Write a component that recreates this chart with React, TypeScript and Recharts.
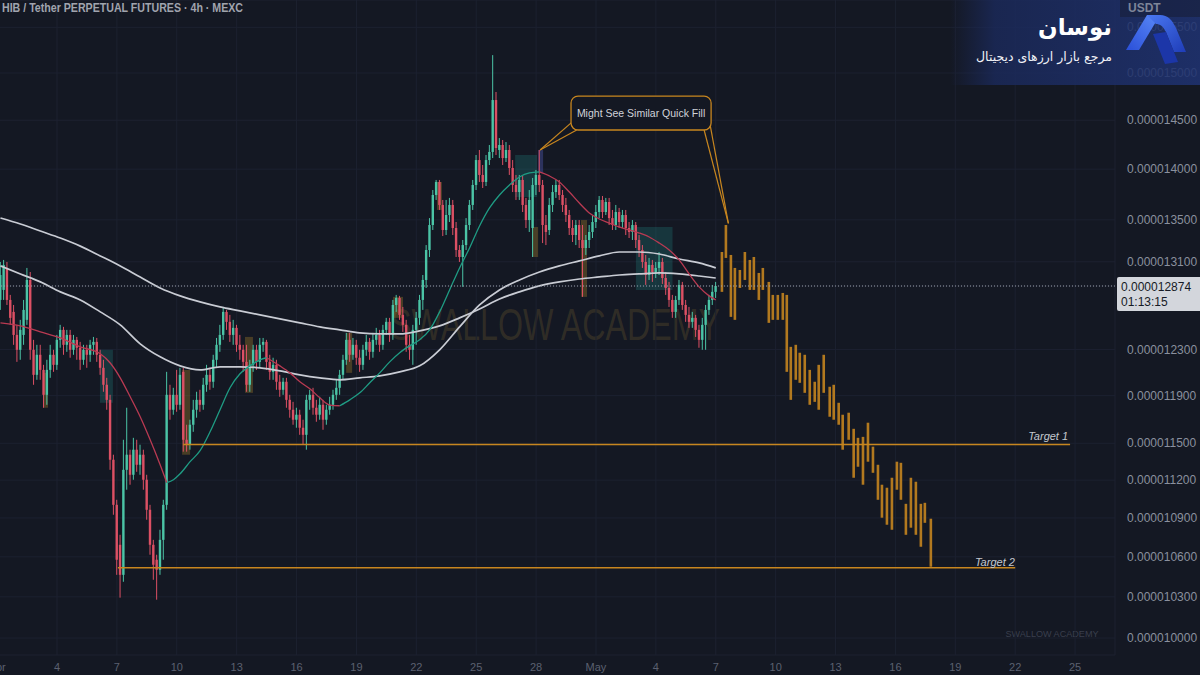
import React from 'react';
import {
  ComposedChart, Bar, Line, XAxis, YAxis, CartesianGrid,
  ReferenceLine, ReferenceArea, ReferenceDot,
} from 'recharts';

// Prices are stored in units of 1e-9 USDT (12874 => 0.000012874)
// Candle index = number of 4h bars since Apr 1 00:00
const firstCandle = 1;
const opens = [
  12746,12838,13042,12746,12637,12430,12298,12430,12565,12930,
  12298,12079,12254,12122,11907,12122,12254,12166,12386,12475,
  12342,12430,12298,12386,12316,12210,12298,12254,12342,12368,
  12254,12140,11993,11864,11365,11003,10692,10464,11283,11406,
  11243,11447,11324,11406,11203,10964,10692,10578,10502,10730,
  11003,11907,11780,11907,11822,12105,11529,11488,11654,11780,
  11864,11822,11993,12079,12019,12210,12342,12430,12637,12547,
  12430,12493,12342,12298,12192,11993,12166,12298,12192,12342,
  12368,12192,12105,12166,12019,11950,12019,11864,11780,11696,
  11738,11629,11570,11864,11907,11797,11738,11822,11696,11780,
  11822,11907,11967,12079,12210,12386,12254,12342,12228,12166,
  12298,12368,12280,12386,12430,12342,12475,12547,12430,12700,
  12764,12610,12520,12342,12298,12475,12583,12746,12930,13211,
  13450,13743,13872,13645,13402,13547,13645,13421,13211,13145,
  13258,13450,13645,13842,14092,13942,13872,14092,14174,14712,
  14194,14245,14112,14194,14012,13842,13772,13892,13645,13498,
  13421,13842,13942,13842,13450,13402,13645,13772,13842,13743,
  13645,13547,13421,13354,13450,13306,13230,13306,13383,13479,
  13576,13694,13576,13674,13517,13450,13576,13479,13547,13421,
  13383,13450,13306,13211,13098,12976,13070,13004,13042,13098,
  12948,12856,12746,12637,12746,12884,12700,12610,12547,12583,
  12475,12386,12520,12655,12746,12820,
];
const highs = [
  13098,13117,13098,12792,12700,12520,12565,12746,13042,13004,
  12386,12342,12342,12166,12210,12342,12298,12430,12520,12502,
  12475,12475,12430,12412,12368,12342,12342,12386,12412,12403,
  12298,12210,12053,11907,11406,11043,10769,11529,11797,11447,
  11545,11529,11488,11447,11243,11003,10730,10616,10808,11043,
  12105,11993,11967,12122,12140,12140,11654,11696,11864,11933,
  11950,12053,12166,12140,12254,12403,12520,12682,12655,12610,
  12565,12520,12430,12342,12342,12210,12342,12342,12403,12403,
  12386,12254,12228,12210,12079,12053,12053,11907,11847,11797,
  11780,11696,11907,11950,11967,11864,11890,11864,11822,11890,
  11950,12036,12122,12254,12448,12448,12403,12386,12298,12342,
  12430,12403,12448,12493,12475,12520,12583,12583,12746,12792,
  12783,12682,12565,12430,12520,12637,12792,12976,13258,13517,
  13792,13892,13892,13694,13694,13714,13694,13479,13258,13306,
  13517,13694,13892,14143,14194,14042,14143,14245,15194,14797,
  14316,14296,14275,14245,14092,13942,13942,13932,13714,13792,
  13912,13992,14194,13892,13547,13714,13842,13892,13892,13792,
  13714,13596,13498,13498,13498,13450,13354,13450,13547,13645,
  13733,13733,13714,13714,13596,13645,13616,13596,13596,13479,
  13498,13479,13354,13258,13164,13136,13117,13098,13192,13136,
  13004,12912,12792,12783,12930,12912,12746,12682,12637,12610,
  12520,12583,12700,12792,12884,12912,
];
const lows = [
  12655,12746,12700,12520,12342,12192,12210,12342,12520,12210,
  11993,12036,12036,11797,11822,12053,12105,12122,12316,12254,
  12280,12228,12254,12210,12122,12166,12140,12192,12254,12192,
  12079,11933,11780,11283,10925,10464,10294,10412,11123,11163,
  11203,11267,11243,11123,10886,10616,10427,10279,10464,10578,
  10964,11696,11738,11763,11780,11431,11431,11447,11595,11713,
  11763,11780,11933,11950,11967,12140,12280,12386,12475,12368,
  12342,12280,12210,12105,11933,11933,12105,12122,12140,12280,
  12122,12036,12036,11950,11890,11907,11797,11713,11654,11629,
  11570,11488,11447,11780,11738,11679,11696,11612,11654,11738,
  11780,11864,11907,12036,12166,12192,12210,12166,12105,12122,
  12245,12210,12228,12342,12280,12298,12430,12368,12386,12637,
  12565,12457,12280,12210,12166,12342,12520,12655,12856,13145,
  13402,13694,13596,13344,13354,13479,13354,13145,13098,12866,
  13211,13402,13596,13792,13872,13812,13832,14042,14112,14143,
  14112,14042,14072,13942,13772,13694,13694,13576,13421,13383,
  13145,13743,13772,13277,13258,13354,13576,13714,13694,13576,
  13479,13354,13287,13258,13230,12774,13164,13230,13325,13421,
  13517,13517,13547,13450,13402,13402,13421,13421,13354,13325,
  13306,13230,13145,13042,12884,12930,12912,12948,12976,12893,
  12792,12682,12583,12583,12700,12655,12547,12493,12493,12412,
  12316,12298,12298,12610,12700,12764,
];
const closes = [
  12976,13070,12746,12583,12430,12298,12475,12655,12930,12298,
  12079,12254,12122,11907,12122,12254,12166,12386,12475,12342,
  12430,12298,12386,12316,12210,12298,12254,12342,12368,12254,
  12140,11993,11864,11365,11003,10578,10464,11283,11406,11243,
  11447,11324,11406,11203,10964,10692,10540,10502,10730,11003,
  11907,11780,11907,11822,12079,11529,11488,11654,11780,11864,
  11822,11993,12079,12019,12210,12342,12430,12637,12547,12430,
  12493,12342,12298,12192,11993,12166,12298,12192,12342,12368,
  12192,12105,12166,12019,11950,12019,11864,11780,11696,11738,
  11629,11570,11864,11907,11797,11738,11822,11696,11780,11822,
  11907,11967,12079,12210,12386,12254,12342,12228,12166,12298,
  12368,12280,12386,12430,12342,12475,12547,12430,12700,12764,
  12610,12520,12342,12298,12475,12583,12746,12930,13211,13450,
  13743,13872,13645,13402,13547,13645,13421,13211,13145,13258,
  13450,13645,13842,14092,13942,13872,14092,14174,14712,14214,
  14245,14112,14194,14012,13842,13772,13892,13645,13498,13694,
  13842,13942,13842,13450,13383,13645,13772,13842,13743,13645,
  13547,13421,13354,13450,13306,13230,13306,13383,13479,13576,
  13694,13576,13674,13517,13450,13576,13479,13547,13421,13383,
  13450,13306,13211,13098,12976,13070,13004,13042,13098,12948,
  12856,12746,12637,12746,12884,12700,12610,12547,12583,12475,
  12386,12520,12655,12746,12820,12874,
];

// Projected "similar quick fill" bars
const projTimes = [217.9,219.1,220.6,221.8,223.3,224.8,226.3,227.5,229.0,230.2,232.0,233.2,234.7,236.2,237.4,238.6,240.1,241.3,242.8,244.3,245.8,247.0,248.5,250.3,251.5,253.0,254.2,256.0,257.5,258.8,260.3,261.8,263.3,264.8,266.0,267.5,269.0,270.5,271.7,273.2,274.7,276.2,277.7,278.9,280.7];
const projHighs = [13192,13450,13164,13042,13023,13192,13117,13145,12995,13042,12912,12792,12792,12810,12792,12324,12342,12272,12254,12122,12019,12166,12254,11976,11993,11839,11738,11755,11620,11545,11553,11671,11472,11324,11163,11139,11219,11349,11340,11011,11219,11187,11011,11019,10894];
const projLows = [12820,13136,12592,12565,12856,12930,12838,12838,12746,12838,12538,12565,12565,12565,12105,11864,12036,12010,11924,11822,11847,11780,11924,11721,11696,11654,11447,11529,11219,11308,11163,11349,11259,11043,10902,10847,10808,11123,11043,10769,10824,10769,10677,10862,10525];

// Moving averages (read every 6 bars)
const maIdx = [1,7,13,19,25,31,37,43,49,55,61,67,73,79,85,91,97,103,109,115,121,127,133,139,145,151,157,163,169,175,181,187,193,199,205,211,216];
const maSlow = [13518,13460,13392,13325,13248,13155,13061,12957,12856,12783,12728,12682,12646,12610,12574,12538,12502,12475,12448,12439,12439,12466,12511,12583,12664,12755,12820,12875,12912,12939,12958,12976,12986,12995,12986,12967,12948];
const maFast = [13061,12986,12912,12820,12746,12637,12520,12351,12236,12157,12122,12149,12149,12140,12114,12079,12053,12036,12053,12070,12105,12157,12298,12502,12700,12838,12930,13004,13061,13108,13155,13192,13192,13173,13126,13089,13042];

// EMA (green when rising, red when falling)
const emaIdx = [1,7,13,19,25,31,34,37,40,43,46,49,51,53,55,58,61,64,67,70,73,76,79,81,85,88,91,94,97,100,103,106,109,112,115,118,121,124,127,130,133,136,139,142,145,148,151,154,157,160,163,166,169,172,175,178,181,184,187,190,193,196,199,202,205,208,211,214,216];
const emaVals = [12538,12511,12457,12404,12324,12263,12182,12053,11890,11721,11529,11324,11179,11203,11251,11349,11439,11595,11780,11967,12088,12157,12210,12228,12157,12096,12019,11959,11881,11820,11814,11864,11924,12010,12096,12192,12272,12333,12386,12475,12637,12838,13042,13230,13440,13616,13743,13842,13922,13962,13972,13932,13872,13772,13664,13567,13508,13469,13431,13402,13373,13335,13277,13211,13117,12986,12866,12783,12746];

const lastPrice = 12874;
const target1 = 11490;
const target2 = 10517;

const xTicks = [0,18,36,54,72,90,108,126,144,162,180,198,216,234,252,270,288,306,324];
const xLabels = ['Apr','4','7','10','13','16','19','22','25','28','May','4','7','10','13','16','19','22','25'];
const yTicks = [10000,10300,10600,10900,11200,11500,11900,12300,12874,13100,13500,14000,14500,15000,15500];

// annotation zones [x1, x2, yHigh, yLow]
const tealZones = [[30.9,34.8,12298,11839],[155.7,162.3,14143,13723],[192,203,13431,12838]];
const oliveZones = [[13.8,15.3,12096,11797],[55.6,58,12122,11406],[74.5,76.9,12412,11924],[104.9,106.7,12448,12096],[119,122,12774,12583],[132.2,133.7,13872,13596],[160.8,162.6,13431,13145],[175.5,177.3,13498,12774]];
const blueZones = [[162.6,164.1,14194,13962]];
const calloutBox = [172.5, 214.6, 14754, 14399];
const calloutPointers = [
  [[172.7,14478],[163.2,14194]],
  [[174.2,14399],[163.2,14194]],
  [[212.5,14399],[219.8,13466]],
  [[214.3,14451],[219.8,13466]],
];

const BG = '#141823';
const GRID = '#1c2130';
const GREEN = '#4bc4a6';
const RED = '#dc5064';
const ORANGE = '#c8861f';
const AXIS_FONT = '"Liberation Sans", Arial, sans-serif';

type Row = { t: number; kind: 'c' | 'p'; o?: number; h: number; l: number; c?: number };
const rows: Row[] = [
  ...opens.map((o, k) => ({ t: firstCandle + k, kind: 'c' as const, o, h: highs[k], l: lows[k], c: closes[k] })),
  ...projTimes.map((t, k) => ({ t, kind: 'p' as const, h: projHighs[k], l: projLows[k] })),
];

const fmt = (v: number) => (v * 1e-9).toFixed(9);

const maSlowData = maIdx.map((t, k) => ({ t, v: maSlow[k] }));
const maFastData = maIdx.map((t, k) => ({ t, v: maFast[k] }));
const emaPts = emaIdx.map((t, k) => ({ t, v: emaVals[k] }));
const emaRuns: { up: boolean; pts: { t: number; v: number }[] }[] = [];
for (let k = 1; k < emaPts.length; k++) {
  const up = emaPts[k].v >= emaPts[k - 1].v;
  const last = emaRuns[emaRuns.length - 1];
  if (last && last.up === up) last.pts.push(emaPts[k]);
  else emaRuns.push({ up, pts: [emaPts[k - 1], emaPts[k]] });
}

const CandleShape = (props: any) => {
  const { x, y, width, height, payload } = props;
  if (!payload || !isFinite(x) || !isFinite(y) || !isFinite(height)) return null;
  const cx = x + width / 2;
  const top = Math.min(y, y + height);
  const bot = Math.max(y, y + height);
  const lh = Math.log(payload.h);
  const ll = Math.log(payload.l);
  const yOf = (v: number) => (lh === ll ? top : top + ((lh - Math.log(v)) / (lh - ll)) * (bot - top));
  if (payload.kind === 'p') {
    return <rect x={cx - 1.3} y={top} width={2.6} height={Math.max(1, bot - top)} fill={ORANGE} fillOpacity={0.88} />;
  }
  const up = payload.c >= payload.o;
  const col = up ? GREEN : RED;
  const yo = yOf(payload.o);
  const yc = yOf(payload.c);
  return (
    <g>
      <line x1={cx} x2={cx} y1={top} y2={bot} stroke={col} strokeWidth={1} />
      <rect x={cx - 1.2} y={Math.min(yo, yc)} width={2.4} height={Math.max(1, Math.abs(yo - yc))} fill={col} />
    </g>
  );
};

const PriceTick = (props: any) => {
  const { x, y, payload } = props;
  const v = payload.value;
  if (Math.abs(v - lastPrice) < 0.5) {
    return (
      <g>
        <rect x={x - 10} y={y - 9} width={90} height={34} rx={2} fill="#d3d6dc" />
        <text x={x - 6} y={y + 4.5} fontSize={12} fill="#161a25" fontFamily={AXIS_FONT}>{fmt(v)}</text>
        <text x={x - 6} y={y + 20} fontSize={12} fill="#161a25" fontFamily={AXIS_FONT}>01:13:15</text>
      </g>
    );
  }
  return <text x={x} y={y} dy={4} fontSize={12} fill="#8a909e" fontFamily={AXIS_FONT}>{fmt(v)}</text>;
};

const CalloutShape = (p: any) => {
  const { x, y, width, height } = p;
  return (
    <g>
      <rect x={x} y={y} width={width} height={height} rx={7} fill={BG} stroke={ORANGE} strokeWidth={1.3} />
      <text x={x + width / 2} y={y + height / 2 + 3.5} textAnchor="middle" fontSize={10.5} fill="#d0d3da" fontFamily={AXIS_FONT}>
        Might See Similar Quick Fill
      </text>
    </g>
  );
};

const TargetLabel = (text: string) => (p: any) => (
  <text x={p.cx} y={p.cy + 4} textAnchor="middle" fontSize={11} fontStyle="italic" fill="#c5c8cf" fontFamily={AXIS_FONT}>{text}</text>
);

export default function App() {
  return (
    <div style={{ position: 'fixed', left: 0, top: 0, width: 1200, height: 675, overflow: 'hidden', background: BG }}>
      <svg width={1200} height={675} style={{ position: 'absolute', left: 0, top: 0 }}>
        <text x={555} y={340} textAnchor="middle" fontSize={44} textLength={330} lengthAdjust="spacingAndGlyphs"
          fill="#6b5a2e" fillOpacity={0.32} fontFamily={AXIS_FONT}>SWALLOW ACADEMY</text>
        <text x={1052} y={637} textAnchor="middle" fontSize={9} textLength={93} lengthAdjust="spacingAndGlyphs"
          fill="#3a3f4d" fontFamily={AXIS_FONT}>SWALLOW ACADEMY</text>
      </svg>
      <div style={{ position: 'absolute', left: -20, top: 0 }}>
        <ComposedChart width={1220} height={675} data={rows} margin={{ top: 0, right: 0, left: 0, bottom: 0 }}>
          <CartesianGrid stroke={GRID} />
          <XAxis dataKey="t" type="number" domain={[-5.146, 336.0]} allowDataOverflow ticks={xTicks} interval={0}
            tickFormatter={(v: number) => xLabels[xTicks.indexOf(v)] ?? ''} tickLine={false} axisLine={false}
            height={20} tickSize={6} tickMargin={2} tick={{ fill: '#5b6070', fontSize: 11, fontFamily: AXIS_FONT }} />
          <YAxis orientation="right" scale="log" domain={[9879, 15807]} allowDataOverflow ticks={yTicks} interval={0}
            width={85} tickLine={false} axisLine={false} tickSize={6} tickMargin={6} tick={<PriceTick />} />
          {tealZones.map((z, k) => (
            <ReferenceArea key={'t' + k} x1={z[0]} x2={z[1]} y1={z[2]} y2={z[3]} fill="#26a69a" fillOpacity={0.22} stroke="none" zIndex={50} />
          ))}
          {oliveZones.map((z, k) => (
            <ReferenceArea key={'o' + k} x1={z[0]} x2={z[1]} y1={z[2]} y2={z[3]} fill="#a8842c" fillOpacity={0.35} stroke="none" zIndex={50} />
          ))}
          {blueZones.map((z, k) => (
            <ReferenceArea key={'b' + k} x1={z[0]} x2={z[1]} y1={z[2]} y2={z[3]} fill="#5a64c8" fillOpacity={0.35} stroke="none" zIndex={50} />
          ))}
          <Bar dataKey={(d: Row) => [d.l, d.h]} shape={CandleShape} barSize={3} isAnimationActive={false} />
          <Line data={maSlowData} dataKey="v" type="monotone" stroke="#c9ccd4" strokeWidth={1.7} dot={false} activeDot={false} isAnimationActive={false} />
          <Line data={maFastData} dataKey="v" type="monotone" stroke="#c9ccd4" strokeWidth={1.7} dot={false} activeDot={false} isAnimationActive={false} />
          {emaRuns.map((r, k) => (
            <Line key={'e' + k} data={r.pts} dataKey="v" type="monotone" stroke={r.up ? '#1f9c84' : '#b93a52'} strokeWidth={1.3} dot={false} activeDot={false} isAnimationActive={false} />
          ))}
          <ReferenceLine y={lastPrice} stroke="#9aa0ab" strokeDasharray="1 2" strokeWidth={1} zIndex={450} />
          <ReferenceLine segment={[{ x: 55.9, y: target1 }, { x: 322.5, y: target1 }]} stroke={ORANGE} strokeWidth={1.6} zIndex={450} />
          <ReferenceLine segment={[{ x: 36.3, y: target2 }, { x: 306.0, y: target2 }]} stroke={ORANGE} strokeWidth={1.6} zIndex={450} />
          <ReferenceDot x={315.9} y={11562} r={0} shape={TargetLabel('Target 1')} zIndex={450} />
          <ReferenceDot x={299.9} y={10563} r={0} shape={TargetLabel('Target 2')} zIndex={450} />
          {calloutPointers.map((s, k) => (
            <ReferenceLine key={'p' + k} segment={[{ x: s[0][0], y: s[0][1] }, { x: s[1][0], y: s[1][1] }]} stroke={ORANGE} strokeWidth={1.2} zIndex={1500} />
          ))}
          <ReferenceArea x1={calloutBox[0]} x2={calloutBox[1]} y1={calloutBox[2]} y2={calloutBox[3]} shape={CalloutShape} zIndex={1600} />
        </ComposedChart>
      </div>
      <svg width={1200} height={675} style={{ position: 'absolute', left: 0, top: 0, pointerEvents: 'none' }}>
        <defs>
          <linearGradient id="panel" x1="0" y1="0" x2="1" y2="0">
            <stop offset="0" stopColor="#1b2a5c" stopOpacity={0} />
            <stop offset="0.18" stopColor="#1b2a5c" stopOpacity={0.8} />
            <stop offset="1" stopColor="#1f3270" stopOpacity={0.88} />
          </linearGradient>
          <linearGradient id="logoA" x1="0" y1="1" x2="1" y2="0">
            <stop offset="0" stopColor="#2a4fd8" />
            <stop offset="1" stopColor="#5b8af8" />
          </linearGradient>
          <linearGradient id="logoB" x1="0" y1="0" x2="1" y2="1">
            <stop offset="0" stopColor="#4a78f2" />
            <stop offset="1" stopColor="#1f3db8" />
          </linearGradient>
        </defs>
        <text x={2} y={12} fontSize={13} fontWeight={600} fill="#a0a4ae" fontFamily={AXIS_FONT}
          textLength={241} lengthAdjust="spacingAndGlyphs">HIB / Tether PERPETUAL FUTURES · 4h · MEXC</text>
        <rect x={950} y={0} width={250} height={85} fill="url(#panel)" />
        <rect x={1120} y={0} width={80} height={17} fill="#18213f" fillOpacity={0.7} />
        <text x={1128} y={12} fontSize={12} fontWeight={600} fill="#7e8598" fontFamily={AXIS_FONT}>USDT</text>
        <polygon points="1126,50 1147,15 1160,15 1139,50" fill="url(#logoA)" />
        <path d="M1147,15 L1160,15 C1168,15 1172,20 1176,28 L1186,52 L1174,52 L1166,32 C1163,26 1160,24 1156,24 Z" fill="url(#logoB)" />
        <polygon points="1153,34 1166,32 1178,62 1165,64" fill="#1c36a8" />
        <text x={1112} y={35} textAnchor="end" fontSize={23} fontWeight={700} fill="#ffffff" fontFamily='"DejaVu Sans", sans-serif'>نوسان</text>
        <text x={1112} y={61} textAnchor="end" fontSize={12.5} fill="#f0f2f6" fontFamily='"DejaVu Sans", sans-serif'>مرجع بازار ارزهای دیجیتال</text>
      </svg>
    </div>
  );
}
